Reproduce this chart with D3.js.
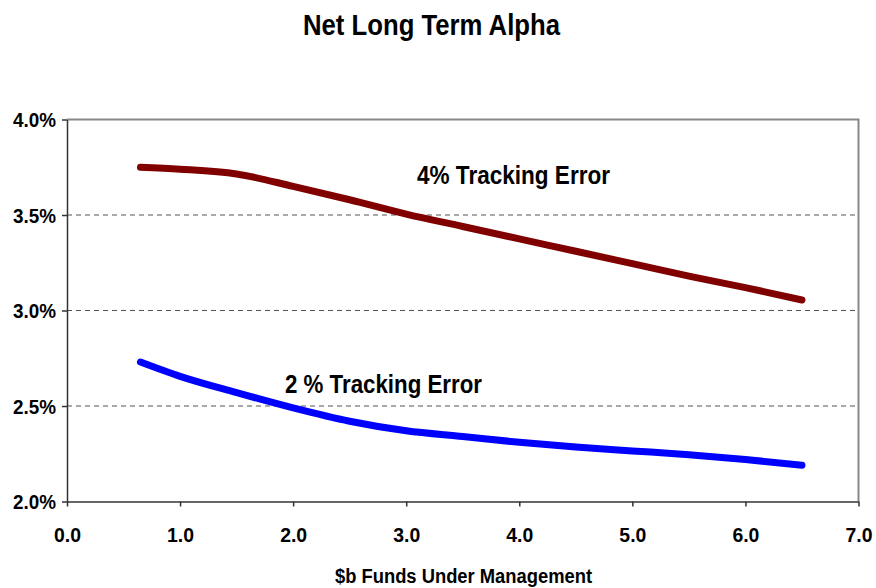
<!DOCTYPE html>
<html>
<head>
<meta charset="utf-8">
<script src="https://cdn.jsdelivr.net/npm/d3@7"></script>
<style>
  body { margin: 0; background: #fff; }
  text { font-family: "Liberation Sans", Arial, sans-serif; font-weight: bold; fill: #000; }
</style>
</head>
<body>
<script>
// funds under management ($b)
let funds = [0.65, 1.0, 1.5, 2.0, 2.5, 3.0, 3.5, 4.0, 4.5, 5.0, 5.5, 6.0, 6.5];
// net alpha (%) for each tracking error
let alpha4 = [3.75, 3.74, 3.715, 3.65, 3.58, 3.505, 3.44, 3.375, 3.31, 3.245, 3.18, 3.12, 3.055];
let alpha2 = [2.73, 2.655, 2.57, 2.49, 2.42, 2.37, 2.34, 2.31, 2.285, 2.265, 2.245, 2.22, 2.19];
let xTicks = [0, 1, 2, 3, 4, 5, 6, 7];
let yTicks = [2.0, 2.5, 3.0, 3.5, 4.0];

let svgWidth = 876, svgHeight = 588;
let plotLeft = 67, plotRight = 858.5, plotTop = 119.5, plotBottom = 501.5;

let svg = d3.select("body").append("svg")
    .attr("width", svgWidth)
    .attr("height", svgHeight);

let xScale = d3.scaleLinear().domain([0, 7]).range([plotLeft, plotRight]);
let yScale = d3.scaleLinear().domain([2, 4]).range([plotBottom, plotTop]);

// dashed gridlines
svg.append("g")
    .selectAll("line")
    .data(yTicks.filter(d => d > 2 && d < 4))
    .join("line")
    .attr("x1", plotLeft).attr("x2", plotRight)
    .attr("y1", d => yScale(d)).attr("y2", d => yScale(d))
    .attr("stroke", "#555")
    .attr("stroke-width", 1)
    .attr("stroke-dasharray", "5,4");

// top and right border
svg.append("path")
    .attr("d", `M${plotLeft},${plotTop}H${plotRight}V${plotBottom}`)
    .attr("fill", "none")
    .attr("stroke", "#888")
    .attr("stroke-width", 2);

// axes
let xAxis = d3.axisBottom(xScale).tickValues(xTicks).tickFormat(d3.format(".1f")).tickSizeInner(5).tickSizeOuter(0);
let yAxis = d3.axisLeft(yScale).tickValues(yTicks).tickFormat(d => d.toFixed(1) + "%").tickSizeInner(5).tickSizeOuter(0);

let gx = svg.append("g")
    .attr("transform", "translate(0," + plotBottom + ")")
    .call(xAxis);
gx.attr("font-size", null).attr("font-family", null);
gx.selectAll("text").attr("dy", "0").attr("y", 40)
    .style("font-size", "20px")
    .attr("textLength", 27).attr("lengthAdjust", "spacingAndGlyphs");

let gy = svg.append("g")
    .attr("transform", "translate(" + plotLeft + ",0)")
    .call(yAxis);
gy.attr("font-size", null).attr("font-family", null);
gy.selectAll("text").attr("x", -11).attr("dy", "0.36em")
    .style("font-size", "20px")
    .attr("textLength", 43).attr("lengthAdjust", "spacingAndGlyphs");

svg.selectAll(".domain, .tick line").attr("stroke", "#333").attr("stroke-width", 1.5);

// lines
let lineGen = ys => d3.line()
    .x((d, i) => xScale(funds[i]))
    .y((d, i) => yScale(ys[i]))
    .curve(d3.curveMonotoneX);

svg.append("path")
    .datum(alpha4)
    .attr("fill", "none")
    .attr("stroke", "#800000")
    .attr("stroke-width", 7)
    .attr("stroke-linecap", "round")
    .attr("d", lineGen(alpha4));

svg.append("path")
    .datum(alpha2)
    .attr("fill", "none")
    .attr("stroke", "#0000ff")
    .attr("stroke-width", 7)
    .attr("stroke-linecap", "round")
    .attr("d", lineGen(alpha2));

// labels
svg.append("text")
    .attr("x", 303).attr("y", 35)
    .style("font-size", "30px")
    .attr("textLength", 257).attr("lengthAdjust", "spacingAndGlyphs")
    .text("Net Long Term Alpha");

svg.append("text")
    .attr("x", 335).attr("y", 583)
    .style("font-size", "20px")
    .attr("textLength", 257).attr("lengthAdjust", "spacingAndGlyphs")
    .text("$b Funds Under Management");

svg.append("text")
    .attr("x", 417).attr("y", 184)
    .style("font-size", "26px")
    .attr("textLength", 193).attr("lengthAdjust", "spacingAndGlyphs")
    .text("4% Tracking Error");

svg.append("text")
    .attr("x", 285).attr("y", 393)
    .style("font-size", "26px")
    .attr("textLength", 197).attr("lengthAdjust", "spacingAndGlyphs")
    .text("2 % Tracking Error");
</script>
</body>
</html>
